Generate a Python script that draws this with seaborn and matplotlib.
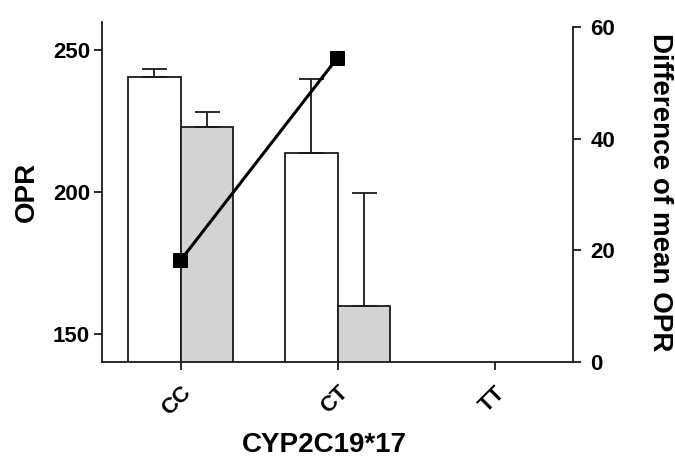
import numpy as np
import pandas as pd
import matplotlib
matplotlib.use("Agg")
import matplotlib.pyplot as plt
import seaborn as sns

# Genotype categories on the x axis
genotypes = ["CC", "CT", "TT"]
# Two measurement series (open and shaded bars)
series = ["open", "shaded"]

# Mean OPR per genotype with data (TT has none)
bar_genotypes = ["CC", "CT"]
opr_open = [240.7, 213.8]
opr_shaded = [223.0, 159.6]
# Upper error (SEM) for each bar
err_open = [2.6, 26.2]
err_shaded = [5.2, 39.9]

# Difference of mean OPR (right axis)
diff_genotypes = ["CC", "CT"]
diff_mean = [18.2, 54.5]

sns.set_style("ticks")
plt.rcParams["font.family"] = ["Liberation Sans", "DejaVu Sans"]
plt.rcParams["font.weight"] = "bold"
for key in ("text.color", "axes.labelcolor", "xtick.color", "ytick.color",
            "axes.edgecolor"):
    plt.rcParams[key] = "black"

df = pd.DataFrame({
    "genotype": bar_genotypes * 2,
    "series": [series[0]] * len(bar_genotypes) + [series[1]] * len(bar_genotypes),
    "opr": opr_open + opr_shaded,
})

fig = plt.figure(figsize=(6.75, 4.59), dpi=100)
ax = fig.add_axes([102 / 675, 1 - 362 / 459, 471 / 675, 340 / 459])

edge = "#1a1a1a"
sns.barplot(data=df, x="genotype", y="opr", hue="series", order=genotypes,
            hue_order=series, palette=["white", "#d3d3d3"], edgecolor=edge,
            linewidth=1.3, width=2 / 3, errorbar=None, legend=False,
            saturation=1, ax=ax)

# Upper-only error bars on top of each bar
errs = [err_open, err_shaded]
for container, e in zip(ax.containers, errs):
    xs = [b.get_x() + b.get_width() / 2 for b in container]
    hs = [b.get_height() for b in container]
    ax.errorbar(xs, hs, yerr=[np.zeros(len(e)), e], fmt="none", ecolor=edge,
                elinewidth=1.3, capsize=9, capthick=1.3, zorder=3)

ax.set_xlim(-0.5, 2.5)
ax.set_ylim(140, 260)
ax.set_yticks([150, 200, 250])
ax.spines["top"].set_visible(False)
ax.spines["right"].set_visible(False)
for s in ("left", "bottom"):
    ax.spines[s].set_linewidth(1.3)
    ax.spines[s].set_color(edge)
ax.tick_params(axis="both", direction="out", length=5.5, width=1.3, color=edge,
               labelsize=16, labelcolor="black")
ax.tick_params(axis="y", pad=3)
ax.tick_params(axis="x", pad=9)
for lbl in ax.get_xticklabels():
    lbl.set_rotation(45)
    lbl.set_ha("right")
    lbl.set_rotation_mode("anchor")
    lbl.set_fontweight("bold")
for lbl in ax.get_yticklabels():
    lbl.set_fontweight("bold")

ax.set_xlabel("CYP2C19*17", fontsize=20, fontweight="bold", color="black")
ax.xaxis.set_label_coords(0.472, -0.205)
ax.xaxis.label.set_va("top")
ax.set_ylabel("OPR", fontsize=20, fontweight="bold", color="black")
ax.yaxis.set_label_coords(-0.132, 0.5)

# Right axis: difference of mean OPR
ax2 = ax.twinx()
diff_x = [genotypes.index(g) for g in diff_genotypes]
sns.lineplot(x=diff_x, y=diff_mean, ax=ax2, color="black", linewidth=2.2,
             marker="s", markersize=9.5, markeredgecolor="black",
             markerfacecolor="black")
ax2.set_ylim(0, 60.9)
ax2.set_yticks([0, 20, 40, 60])
ax2.spines["top"].set_visible(False)
ax2.spines["left"].set_visible(False)
ax2.spines["bottom"].set_visible(False)
ax2.spines["right"].set_bounds(0, 60)
ax2.spines["right"].set_linewidth(1.3)
ax2.spines["right"].set_color(edge)
ax2.tick_params(axis="y", direction="out", length=5.5, width=1.3, color=edge,
                labelsize=16, pad=7, labelcolor="black")
for lbl in ax2.get_yticklabels():
    lbl.set_fontweight("bold")
ax2.set_ylabel("Difference of mean OPR", fontsize=20, fontweight="bold",
               rotation=270, color="black")
ax2.yaxis.set_label_coords(1.158, 0.5)
ax2.yaxis.label.set_va("bottom")
ax2.yaxis.label.set_rotation_mode("anchor")

fig.savefig("out.png", dpi=100)
